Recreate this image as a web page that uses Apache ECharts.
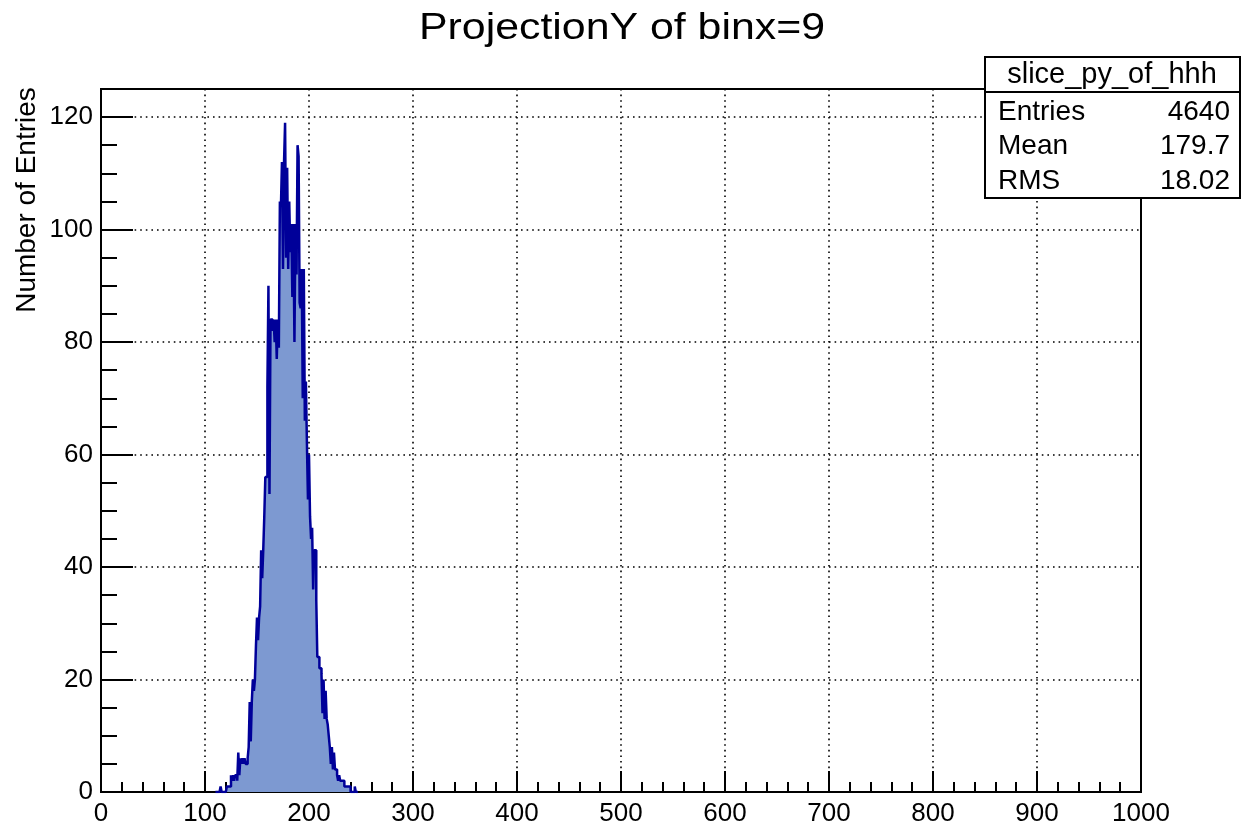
<!DOCTYPE html>
<html>
<head>
<meta charset="utf-8">
<script src="https://cdn.jsdelivr.net/npm/echarts@6/dist/echarts.min.js"></script>
<style>
html,body{margin:0;padding:0;background:#fff;}
#chart{width:1246px;height:827px;}
</style>
</head>
<body>
<div id="chart"></div>
<script>
// Histogram: 1000 bins of width 1 over [0,1000]; only the populated range is listed.
const title = 'ProjectionY of binx=9';
const yTitle = 'Number of Entries';
const statsName = 'slice_py_of_hhh';
const statsLabels = ['Entries', 'Mean', 'RMS'];
const statsValues = ['4640', '179.7', '18.02'];
const firstBin = 110;
const binWidth = 1;
const counts = [
  0,0,0,0,0,1,0,0,0,0,          // 110-119
  0,1,1,1,1,3,2,3,2,3,          // 120-129
  3,2,7,3,6,5,6,5,6,5,          // 130-139
  5,6,8,16,9,16,20,18,20,26,    // 140-149
  31,27,31,33,43,38,43,49,56,56,// 150-159
  72,90,53,84,84,82,84,80,84,77,// 160-169
  84,79,105,104,112,93,112,119,95,111, // 170-179
  93,105,96,101,88,101,80,101,92,115,  // 180-189
  113,87,86,93,70,93,66,73,62,52,      // 190-199
  60,49,45,47,36,43,43,34,24,24,       // 200-209
  22,22,21,14,20,13,18,13,12,10,       // 210-219
  8,5,8,4,7,4,4,3,2,3,                 // 220-229
  2,2,2,2,1,1,1,1,1,1,                 // 230-239
  0,0,0,0,1,0,0                        // 240-246
];
const xMin = 0, xMax = 1000, xInterval = 100;
const yMin = 0, yMax = 125, yInterval = 20, yMinorInterval = 5;

const FONT = '"Liberation Sans", Arial, Helvetica, sans-serif';
const data = counts.map((c, i) => [firstBin + i * binWidth, c]);
data.push([firstBin + counts.length * binWidth, 0]);

const chart = echarts.init(document.getElementById('chart'), null, {renderer: 'canvas'});
const dotted = {color: '#000', width: 1.6, type: [1.6, 4]};
chart.setOption({
  animation: false,
  backgroundColor: '#fff',
  grid: {left: 101, right: 105, top: 89, bottom: 33, show: true, borderColor: '#000', borderWidth: 2, backgroundColor: 'transparent', containLabel: false},
  xAxis: {
    type: 'value', min: xMin, max: xMax, interval: xInterval,
    axisLine: {show: true, onZero: false, lineStyle: {color: '#000', width: 2}},
    axisTick: {show: true, inside: true, length: 21, lineStyle: {color: '#000', width: 2}},
    minorTick: {show: true, splitNumber: 5, length: 10, lineStyle: {color: '#000', width: 2}},
    splitLine: {show: true, lineStyle: dotted},
    axisLabel: {show: true, color: '#000', fontSize: 26, fontFamily: FONT, margin: 9, showMinLabel: true, showMaxLabel: true,
      formatter: v => String(v)}
  },
  yAxis: [{
    type: 'value', min: yMin, max: yMax, interval: yInterval, position: 'left',
    axisLine: {show: true, onZero: false, lineStyle: {color: '#000', width: 2}},
    axisTick: {show: true, inside: true, length: 32, lineStyle: {color: '#000', width: 2}},
    splitLine: {show: true, lineStyle: dotted},
    axisLabel: {show: true, color: '#000', fontSize: 26, fontFamily: FONT, margin: 8,
      formatter: v => (v % yInterval === 0 ? String(v) : '')}
  }, {
    type: 'value', min: yMin, max: yMax, interval: yMinorInterval, position: 'left', offset: 0,
    axisLine: {show: false},
    axisTick: {show: true, inside: true, length: 16, lineStyle: {color: '#000', width: 2}},
    splitLine: {show: false},
    axisLabel: {show: false}
  }],
  series: [{
    type: 'line', step: 'end', data: data, yAxisIndex: 0,
    symbol: 'none', silent: true,
    lineStyle: {color: '#000099', width: 2.5},
    areaStyle: {color: '#7d99d1', opacity: 1},
    z: 3
  }],
  graphic: [
    {type: 'text', x: 622, y: 29, scaleX: 1.19, z: 100,
      style: {text: title, fill: '#000', font: '36px ' + FONT, textAlign: 'center', textVerticalAlign: 'middle'}},
    {type: 'text', x: 27, y: 200, rotation: Math.PI / 2, z: 100,
      style: {text: yTitle, fill: '#000', font: '28px ' + FONT, textAlign: 'center', textVerticalAlign: 'middle'}},
    {type: 'group', z: 100, children: [
      {type: 'rect', shape: {x: 985, y: 57, width: 255, height: 141}, style: {fill: '#fff', stroke: '#000', lineWidth: 2}, z: 100},
      {type: 'line', shape: {x1: 985, y1: 92, x2: 1240, y2: 92}, style: {stroke: '#000', lineWidth: 2}, z: 101},
      {type: 'text', x: 1112, y: 75, z: 101, style: {text: statsName, fill: '#000', font: '29px ' + FONT, textAlign: 'center', textVerticalAlign: 'middle'}},
      {type: 'text', x: 998, y: 112, z: 101, style: {text: statsLabels[0], fill: '#000', font: '28px ' + FONT, textAlign: 'left', textVerticalAlign: 'middle'}},
      {type: 'text', x: 998, y: 146, z: 101, style: {text: statsLabels[1], fill: '#000', font: '28px ' + FONT, textAlign: 'left', textVerticalAlign: 'middle'}},
      {type: 'text', x: 998, y: 181, z: 101, style: {text: statsLabels[2], fill: '#000', font: '28px ' + FONT, textAlign: 'left', textVerticalAlign: 'middle'}},
      {type: 'text', x: 1230, y: 112, z: 101, style: {text: statsValues[0], fill: '#000', font: '28px ' + FONT, textAlign: 'right', textVerticalAlign: 'middle'}},
      {type: 'text', x: 1230, y: 146, z: 101, style: {text: statsValues[1], fill: '#000', font: '28px ' + FONT, textAlign: 'right', textVerticalAlign: 'middle'}},
      {type: 'text', x: 1230, y: 181, z: 101, style: {text: statsValues[2], fill: '#000', font: '28px ' + FONT, textAlign: 'right', textVerticalAlign: 'middle'}}
    ]}
  ]
});
</script>
</body>
</html>
